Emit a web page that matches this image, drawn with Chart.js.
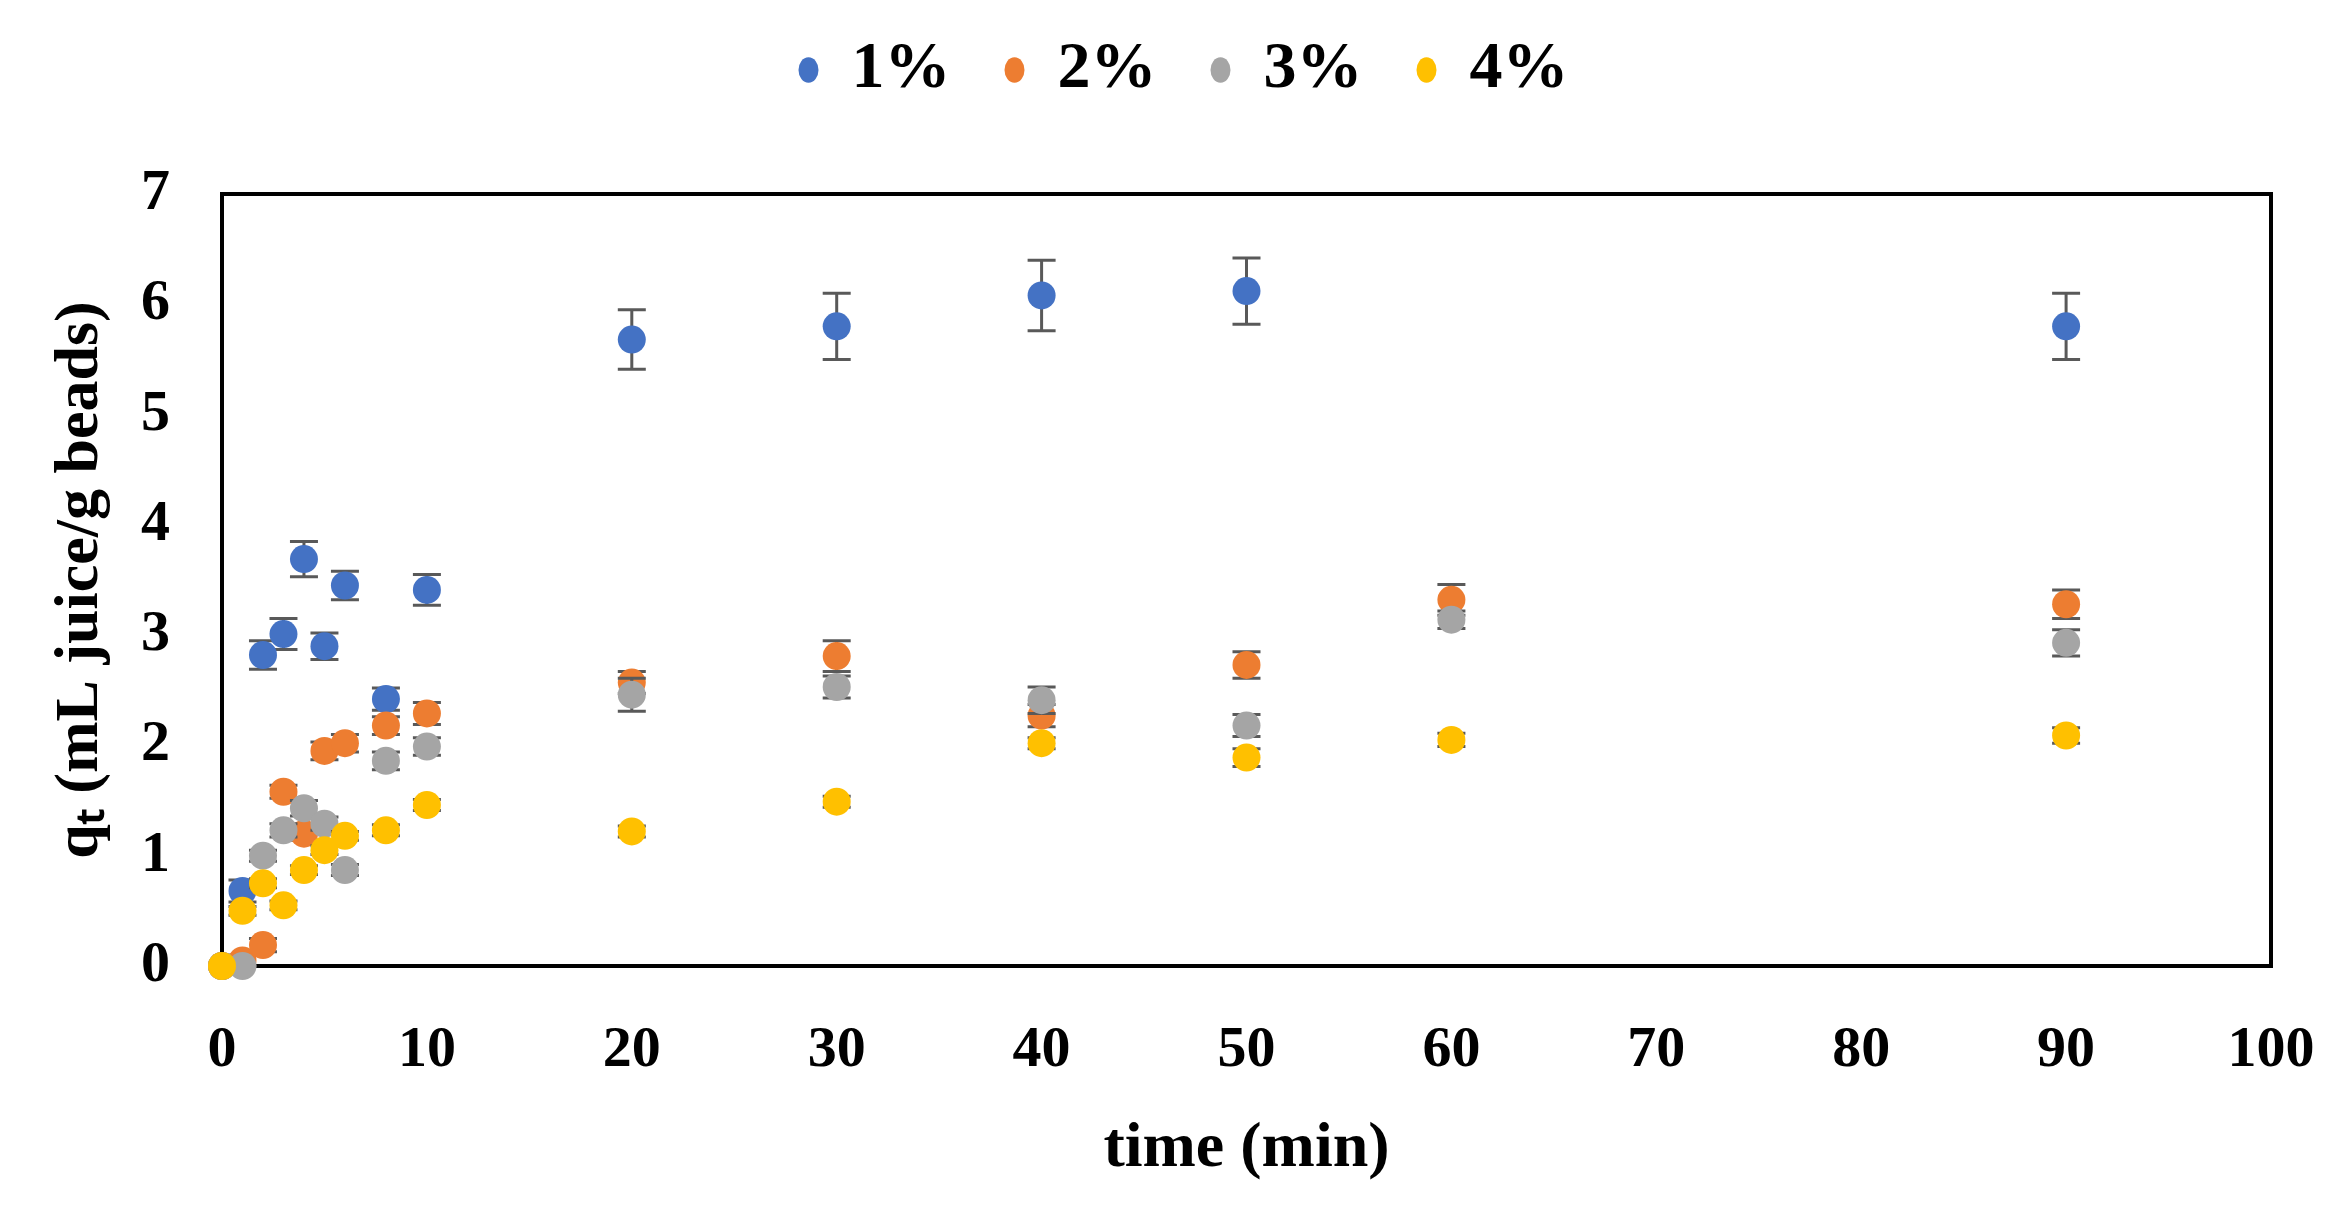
<!DOCTYPE html>
<html>
<head>
<meta charset="utf-8">
<script src="https://cdn.jsdelivr.net/npm/chart.js@4.4.1/dist/chart.umd.min.js"></script>
<style>
  html, body { margin: 0; padding: 0; background: #fff; }
</style>
</head>
<body>
<canvas id="kinetics" width="2336" height="1215"></canvas>
<script>
// sampling times (min)
var times = [0, 1, 2, 3, 4, 5, 6, 8, 10, 20, 30, 40, 50, 60, 90];

// qt values, null where no point is shown
var q1 = [0, 0.68, 2.82, 3.01, 3.69, 2.90, 3.45, 2.42, 3.41, 5.68, 5.80, 6.08, 6.12, null, 5.80];
var q2 = [0, 0.05, 0.19, 1.58, 1.20, 1.95, 2.02, 2.18, 2.29, 2.57, 2.81, 2.27, 2.73, 3.32, 3.28];
var q3 = [0, 0, 1.00, 1.23, 1.43, 1.29, 0.87, 1.86, 1.99, 2.46, 2.53, 2.41, 2.18, 3.14, 2.93];
var q4 = [0, 0.50, 0.75, 0.55, 0.87, 1.05, 1.18, 1.23, 1.46, 1.22, 1.49, 2.02, 1.89, 2.05, 2.09];

// error bar half-lengths
var e1 = [0, 0.10, 0.13, 0.14, 0.16, 0.12, 0.13, 0.10, 0.14, 0.27, 0.30, 0.32, 0.30, null, 0.30];
var e2 = [0, 0.05, 0.06, 0.06, 0.06, 0.08, 0.08, 0.08, 0.10, 0.10, 0.14, 0.10, 0.12, 0.14, 0.13];
var e3 = [0, 0, 0.05, 0.06, 0.07, 0.06, 0.05, 0.08, 0.08, 0.15, 0.10, 0.12, 0.10, 0.08, 0.12];
var e4 = [0, 0.04, 0.04, 0.04, 0.04, 0.04, 0.04, 0.05, 0.05, 0.05, 0.05, 0.05, 0.08, 0.06, 0.07];

var seriesLabels = ['1%', '2%', '3%', '4%'];
var seriesColors = ['#4472C4', '#ED7D31', '#A5A5A5', '#FFC000'];

function points(vals, errs) {
    return times.map(function (t, i) {
        return { x: t, y: vals[i], err: errs[i] };
    }).filter(function (p) { return p.y !== null; });
}

var allVals = [q1, q2, q3, q4];
var allErrs = [e1, e2, e3, e4];

var datasets = seriesLabels.map(function (lbl, i) {
    return {
        label: lbl,
        data: points(allVals[i], allErrs[i]),
        backgroundColor: seriesColors[i],
        borderColor: seriesColors[i],
        borderWidth: 0,
        pointRadius: 14,
        pointHoverRadius: 14,
        pointStyle: 'circle',
        showLine: false,
        clip: false,
        order: 4 - i // later series drawn on top, like the original
    };
});

// draw error bars just before each series' markers
var errorBars = {
    id: 'errorBars',
    beforeDatasetDraw: function (chart, args) {
        var ds = chart.data.datasets[args.index];
        var xs = chart.scales.x, ys = chart.scales.y;
        var ctx = chart.ctx;
        var cap = 14;
        ctx.save();
        ctx.strokeStyle = '#595959';
        ctx.lineWidth = 3;
        ds.data.forEach(function (p) {
            if (!p.err) return;
            var px = xs.getPixelForValue(p.x);
            var top = ys.getPixelForValue(p.y + p.err);
            var bot = ys.getPixelForValue(p.y - p.err);
            ctx.beginPath();
            ctx.moveTo(px, top); ctx.lineTo(px, bot);
            ctx.moveTo(px - cap, top); ctx.lineTo(px + cap, top);
            ctx.moveTo(px - cap, bot); ctx.lineTo(px + cap, bot);
            ctx.stroke();
        });
        ctx.restore();
    }
};

// black frame round the plot area
var plotFrame = {
    id: 'plotFrame',
    beforeDatasetsDraw: function (chart) {
        var a = chart.chartArea;
        var ctx = chart.ctx;
        ctx.save();
        ctx.strokeStyle = '#000';
        ctx.lineWidth = 4;
        ctx.strokeRect(a.left, a.top, a.right - a.left, a.bottom - a.top);
        ctx.restore();
    }
};

// more room between legend and plot, and nudge the legend to the right
var legendGap = {
    id: 'legendGap',
    beforeInit: function (chart) {
        var fit = chart.legend.fit;
        chart.legend.fit = function () {
            fit.call(this);
            this.height += 81;
        };
    },
    afterLayout: function (chart) {
        chart.legend.left += 48;
        chart.legend.right += 48;
    }
};

Chart.defaults.font.family = '"Liberation Serif", "Times New Roman", serif';
Chart.defaults.font.weight = 'bold';
Chart.defaults.color = '#000';

var ctx = document.getElementById('kinetics').getContext('2d');
var chart = new Chart(ctx, {
    type: 'scatter',
    data: { datasets: datasets },
    options: {
        responsive: false,
        animation: false,
        devicePixelRatio: 1,
        layout: { padding: { top: -17, left: 0, right: 65, bottom: 0 } },
        plugins: {
            legend: {
                position: 'top',
                labels: {
                    usePointStyle: true,
                    pointStyle: 'circle',
                    boxHeight: 18,
                    pointStyleWidth: 20,
                    padding: 54,
                    color: '#000',
                    font: { size: 66, weight: 'bold' },
                    sort: function (a, b) { return a.datasetIndex - b.datasetIndex; }
                }
            },
            tooltip: { enabled: false }
        },
        scales: {
            x: {
                type: 'linear',
                min: 0,
                max: 100,
                grid: { display: false, drawTicks: false },
                border: { display: false },
                ticks: { stepSize: 10, padding: 50, font: { size: 58, weight: 'bold' }, color: '#000' },
                title: {
                    display: true,
                    text: 'time (min)',
                    color: '#000',
                    font: { size: 64, weight: 'bold' },
                    padding: { top: 0, bottom: 27 }
                },
                afterFit: function (scale) {
                    scale.height = 249;
                    scale.paddingLeft = 0;
                    scale.paddingRight = 0;
                }
            },
            y: {
                min: 0,
                max: 7,
                grid: { display: false, drawTicks: false },
                border: { display: false },
                ticks: { stepSize: 1, padding: 52, font: { size: 58, weight: 'bold' }, color: '#000' },
                title: {
                    display: true,
                    text: 'qₜ (mL juice/g beads)',
                    color: '#000',
                    font: { size: 62, weight: 'bold' },
                    padding: { top: 44, bottom: 0 }
                },
                afterFit: function (scale) { scale.width = 222; }
            }
        }
    },
    plugins: [errorBars, plotFrame, legendGap]
});
</script>
</body>
</html>
